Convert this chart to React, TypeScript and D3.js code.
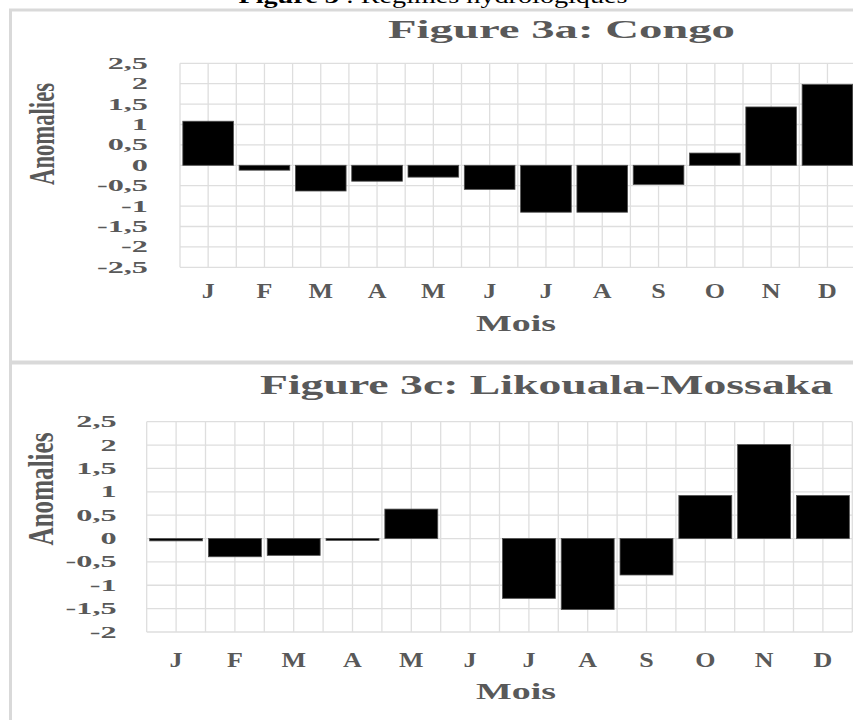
import React from 'react';
import * as d3 from 'd3';

const MONTHS = ['J', 'F', 'M', 'A', 'M', 'J', 'J', 'A', 'S', 'O', 'N', 'D'];
const CONGO = [1.08, -0.12, -0.63, -0.39, -0.29, -0.59, -1.15, -1.15, -0.47, 0.3, 1.43, 1.98];
const LIKOUALA = [-0.05, -0.39, -0.36, -0.04, 0.63, 0, -1.28, -1.52, -0.78, 0.92, 2.01, 0.92];
const TICKS_CONGO = [2.5, 2, 1.5, 1, 0.5, 0, -0.5, -1, -1.5, -2, -2.5];
const TICKS_LIKOUALA = [2.5, 2, 1.5, 1, 0.5, 0, -0.5, -1, -1.5, -2];

const FONT = '"Liberation Serif", "Times New Roman", serif';
const GREY = '#595959';
const GRID = '#dedede';

const fmt = (v: number) => String(v).replace('.', ',');

interface PanelProps {
  values: number[];
  ticks: number[];
  title: string;
  titleX: number;
  titleW: number;
  titleY: number;
  titleSize: number;
  left: number;
  right: number;
  top: number;
  bottom: number;
  tickRight: number;
  monthY: number;
  moisY: number;
  yLabel: [number, number, number]; // cx, cy, length
}

const Panel: React.FC<PanelProps> = (p) => {
  const x = d3.scaleBand<number>()
    .domain(d3.range(MONTHS.length))
    .range([p.left, p.right])
    .paddingInner(0.1)
    .paddingOuter(0.05);
  const y = d3.scaleLinear()
    .domain([d3.min(p.ticks)!, d3.max(p.ticks)!])
    .range([p.bottom, p.top]);
  const step = (p.right - p.left) / MONTHS.length;
  // vertical gridlines every half category
  const vLines = d3.range(0, MONTHS.length * 2 + 1).map(i => p.left + i * step / 2);

  return (
    <g>
      {p.ticks.map(t => (
        <line key={'h' + t} x1={p.left} x2={p.right} y1={y(t)} y2={y(t)} stroke={GRID} strokeWidth={1.3} />
      ))}
      {vLines.map((vx, i) => (
        <line key={'v' + i} x1={vx} x2={vx} y1={p.top} y2={p.bottom} stroke={GRID} strokeWidth={1.3} />
      ))}
      {p.values.map((v, i) => (
        v === 0 ? null :
        <rect key={'b' + i}
          x={x(i)!}
          y={y(Math.max(0, v))}
          width={x.bandwidth()}
          height={Math.abs(y(v) - y(0))}
          fill="#000"
          stroke="#505050"
          strokeWidth={0.8} />
      ))}
      {p.ticks.map(t => (
        <text key={'t' + t}
          transform={`translate(${p.tickRight},${y(t)}) scale(1.9,1)`}
          textAnchor="end"
          dominantBaseline="central"
          fontFamily={FONT}
          fontWeight="bold"
          fontSize={17}
          fill={GREY}>{fmt(t)}</text>
      ))}
      {MONTHS.map((m, i) => (
        <text key={'m' + i}
          transform={`translate(${x(i)! + x.bandwidth() / 2},${p.monthY}) scale(1.3,1)`}
          textAnchor="middle"
          fontFamily={FONT}
          fontWeight="bold"
          fontSize={20}
          fill={GREY}>{m}</text>
      ))}
      <text x={516} y={p.moisY} textAnchor="middle" fontFamily={FONT} fontWeight="bold"
        fontSize={24} fill={GREY} textLength={80} lengthAdjust="spacingAndGlyphs">Mois</text>
      <text x={p.titleX} y={p.titleY} fontFamily={FONT} fontWeight="bold" fontSize={p.titleSize}
        fill={GREY} textLength={p.titleW} lengthAdjust="spacingAndGlyphs">{p.title}</text>
      <text
        transform={`translate(${p.yLabel[0]},${p.yLabel[1]}) scale(1.75,1) rotate(-90)`}
        textAnchor="middle"
        dominantBaseline="central"
        fontFamily={FONT}
        fontWeight="bold"
        fontSize={21}
        fill={GREY}
        textLength={p.yLabel[2]}
        lengthAdjust="spacingAndGlyphs">Anomalies</text>
    </g>
  );
};

export default function App() {
  return (
    <svg width={853} height={720} style={{ position: 'absolute', left: 0, top: 0, background: '#fff' }}>
      <rect x={0} y={0} width={853} height={720} fill="#fff" />
      {/* caption cut at top */}
      <text x={433} y={3} textAnchor="middle" fontFamily={FONT} fontSize={20} fill="#000"
        textLength={389} lengthAdjust="spacingAndGlyphs">
        <tspan fontWeight="bold">Figure 3</tspan><tspan> : Régimes hydrologiques</tspan>
      </text>
      {/* panel frames */}
      <rect x={10.5} y={10} width={860} height={352} fill="none" stroke="#d9d9d9" strokeWidth={3} />
      <rect x={10.5} y={363} width={860} height={380} fill="none" stroke="#d9d9d9" strokeWidth={3} />
      <Panel
        values={CONGO}
        ticks={TICKS_CONGO}
        title="Figure 3a: Congo"
        titleX={388} titleW={347} titleY={37.5} titleSize={26}
        left={180} right={855.6} top={63.3} bottom={267.3}
        tickRight={148}
        monthY={298} moisY={331}
        yLabel={[41, 134, 102]} />
      <Panel
        values={LIKOUALA}
        ticks={TICKS_LIKOUALA}
        title="Figure 3c: Likouala-Mossaka"
        titleX={260} titleW={573} titleY={393.5} titleSize={27}
        left={146.7} right={852.3} top={421.7} bottom={632}
        tickRight={116.7}
        monthY={667} moisY={699}
        yLabel={[40, 489, 113]} />
    </svg>
  );
}
